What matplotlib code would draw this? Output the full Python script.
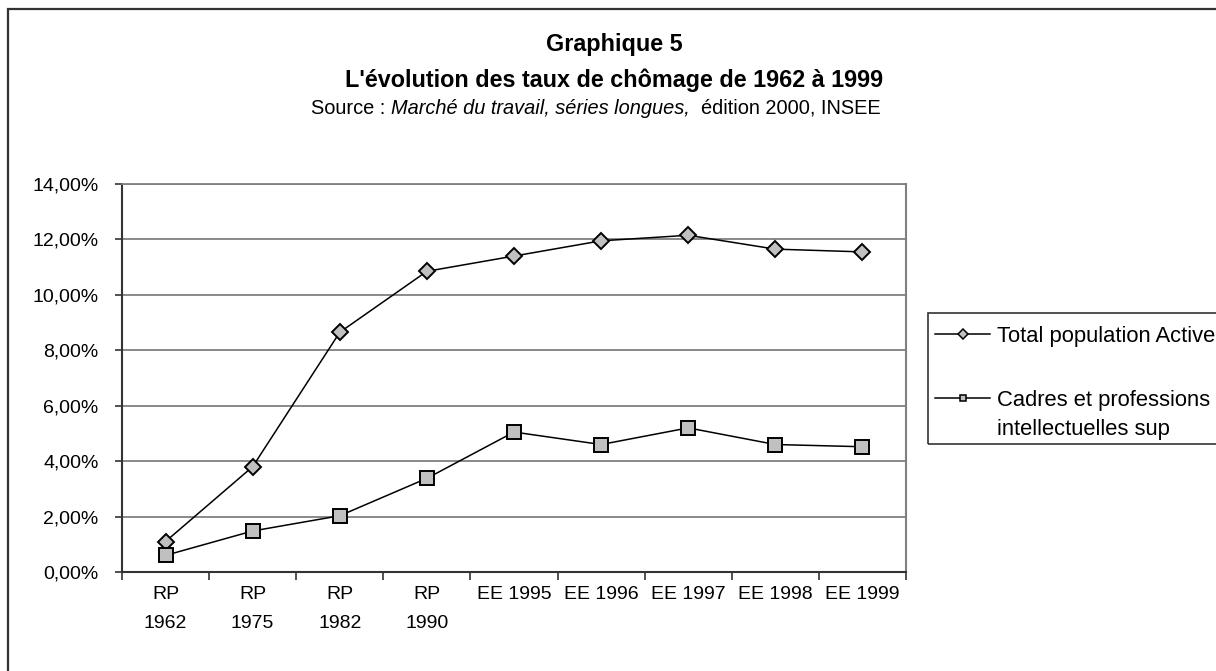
import matplotlib.pyplot as plt
from matplotlib.patches import Rectangle
from matplotlib.lines import Line2D
from matplotlib.ticker import FixedLocator, FuncFormatter

# data (unemployment rate, %)
categories = ['RP\n1962', 'RP\n1975', 'RP\n1982', 'RP\n1990', 'EE 1995',
              'EE 1996', 'EE 1997', 'EE 1998', 'EE 1999']
total_actifs = [1.1, 3.8, 8.65, 10.85, 11.4, 11.95, 12.15, 11.65, 11.55]
cadres = [0.6, 1.48, 2.03, 3.38, 5.05, 4.6, 5.2, 4.6, 4.52]
yticks = [0, 2, 4, 6, 8, 10, 12, 14]
series_names = ['Total population Active', 'Cadres et professions\nintellectuelles sup']
series_markers = ['D', 's']

plt.rcParams['font.family'] = ['Liberation Sans', 'DejaVu Sans']
FS = 14
W, H = 1216, 671

fig = plt.figure(figsize=(W / 100, H / 100), dpi=100)
fig.patch.set_facecolor('white')


def fx(px):
    return px / W


def fy(py):
    return 1 - py / H


# outer frame of the chart (runs off the right/bottom edges)
fig.patches.append(Rectangle((fx(7.5), -0.05), 1.1, fy(9.5) + 0.05,
                             transform=fig.transFigure, fill=False,
                             edgecolor='#333333', linewidth=1.6))

ax = fig.add_axes([fx(122), fy(572), fx(906 - 122), (572 - 184) / H])
x = list(range(len(categories)))

ax.plot(x, total_actifs, color='black', lw=1.1, marker='D', ms=8.5,
        mfc='#c0c0c0', mec='black', mew=1.4, zorder=3)
ax.plot(x, cadres, color='black', lw=1.1, marker='s', ms=10,
        mfc='#c0c0c0', mec='black', mew=1.4, zorder=3)

ax.set_xlim(-0.5, len(categories) - 0.5)
ax.set_ylim(0, 14)
ax.set_yticks(yticks)
ax.yaxis.set_major_formatter(FuncFormatter(lambda v, p: f'{v:.2f}%'.replace('.', ',')))
ax.grid(axis='y', color='#808080', lw=1.3)
ax.set_axisbelow(True)

ax.set_xticks(x)
ax.set_xticklabels(categories, fontsize=FS, linespacing=1.9, va='top')
ax.xaxis.set_minor_locator(FixedLocator([i + 0.5 for i in range(-1, len(categories))]))
ax.tick_params(axis='x', which='major', length=0, pad=10)
ax.tick_params(axis='x', which='minor', length=6, width=1.2, color='#333333', direction='out')
ax.tick_params(axis='y', length=5, width=1.2, color='#333333', labelsize=FS, pad=12)

for side in ['left', 'bottom']:
    ax.spines[side].set_color('#333333')
    ax.spines[side].set_linewidth(1.5)
ax.spines['right'].set_color('#808080')
ax.spines['right'].set_linewidth(1.5)
ax.spines['top'].set_color('#808080')
ax.spines['top'].set_linewidth(1.3)

# legend, drawn by hand (box runs off the right edge like the reference)
fig.patches.append(Rectangle((fx(928), fy(444)), 0.5, (444 - 313) / H,
                             transform=fig.transFigure, fill=False,
                             edgecolor='#333333', linewidth=1.2))
leg_rows = [334, 398]
leg_ms = [5.5, 5.0]
for name, mk, ms, ry in zip(series_names, series_markers, leg_ms, leg_rows):
    fig.add_artist(Line2D([fx(935), fx(990)], [fy(ry), fy(ry)], color='black',
                          lw=1.1, transform=fig.transFigure))
    fig.add_artist(Line2D([fx(962.5)], [fy(ry)], marker=mk, ms=ms, mfc='#c0c0c0',
                          mec='black', mew=1.1, transform=fig.transFigure))
    for i, line in enumerate(name.split('\n')):
        fig.text(fx(997), fy(ry + 8 + 29 * i), line, ha='left', va='baseline',
                 fontsize=15.8)

# titles
tx = 614
fig.text(fx(tx), fy(45), 'Graphique 5', ha='center', va='center',
         fontsize=16.8, fontweight='bold')
fig.text(fx(tx), fy(80), "L'évolution des taux de chômage de 1962 à 1999",
         ha='center', va='center', fontsize=16.8, fontweight='bold')

# source line with mixed styles
pieces = [('Source : ', 'normal'), ('Marché du travail, séries longues,', 'italic'),
          ('  édition 2000, INSEE', 'normal')]
renderer = fig.canvas.get_renderer()
texts = []
for s, style in pieces:
    t = fig.text(0, fy(108), s, ha='left', va='center', fontsize=14.4, style=style)
    texts.append(t)
widths = [t.get_window_extent(renderer).width / W for t in texts]
start = fx(596) - sum(widths) / 2
for t, w in zip(texts, widths):
    t.set_x(start)
    start += w

fig.savefig('out.png', dpi=100)
